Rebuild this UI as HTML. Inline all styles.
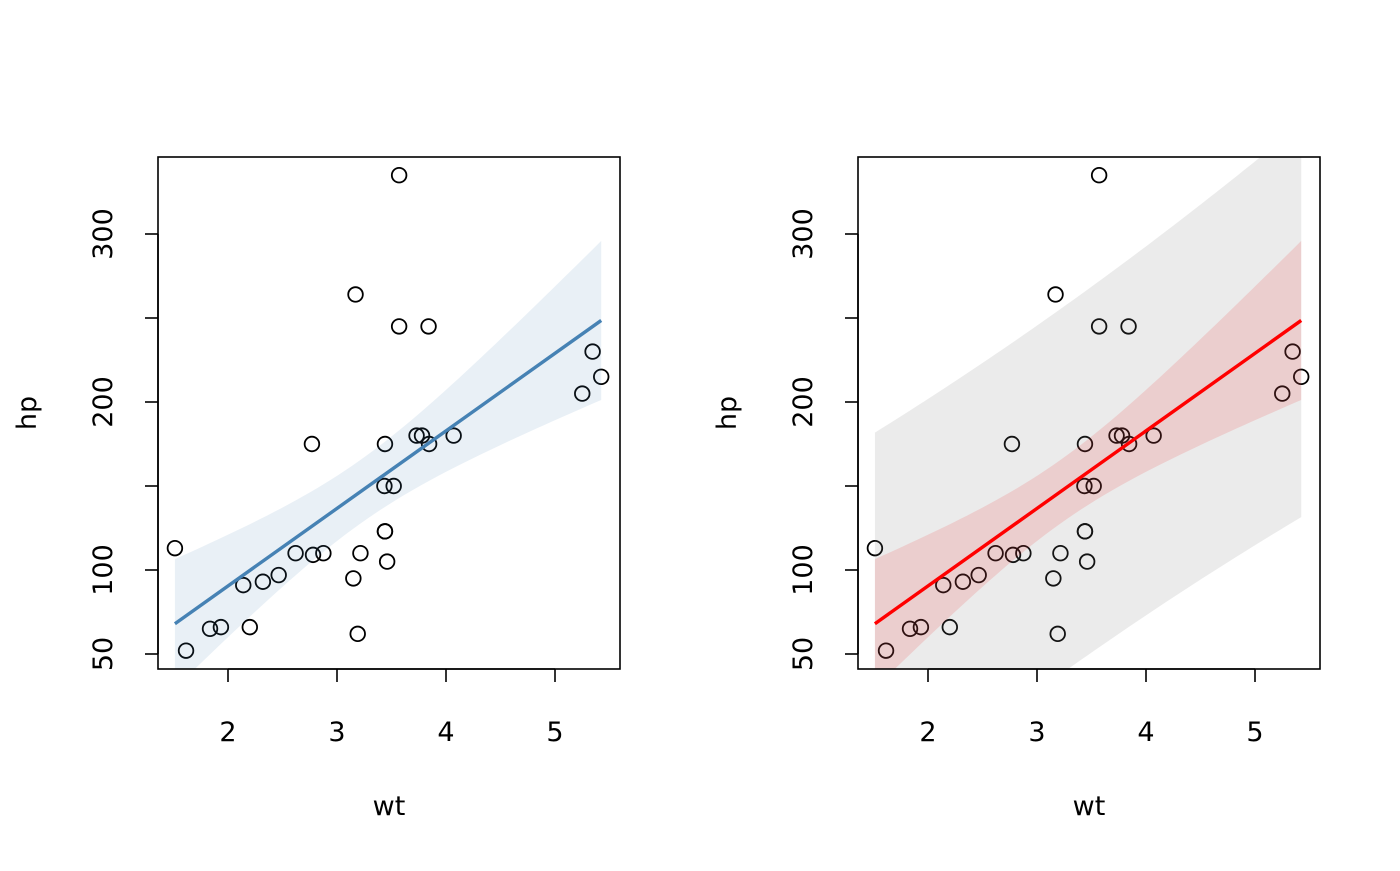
<!DOCTYPE html>
<html><head><meta charset="utf-8"><style>
body{margin:0;background:#fff}
text{font-family:"DejaVu Sans","Liberation Sans",sans-serif;font-size:27px;fill:#000}
</style></head><body>
<svg id="svg" width="1400" height="866" xmlns="http://www.w3.org/2000/svg">
<defs>
<clipPath id="c0"><rect x="158" y="157" width="462" height="512"/></clipPath>
<clipPath id="c1"><rect x="858" y="157" width="462" height="512"/></clipPath>
</defs>
</svg>
<script>
const wt=[2.620,2.875,2.320,3.215,3.440,3.460,3.570,3.190,3.150,3.440,3.440,4.070,3.730,3.780,5.250,5.424,5.345,2.200,1.615,1.835,2.465,3.520,3.435,3.840,3.845,1.935,2.140,1.513,3.170,2.770,3.570,2.780];
const hp=[110,110,93,110,175,105,245,62,95,123,123,180,180,180,205,215,230,66,52,65,97,150,150,245,175,66,91,113,264,175,335,109];
const xTicks=[2,3,4,5];
const yTicks=[50,100,150,200,250,300];
const yLabels=["50","100","","200","","300"];
const tcrit=2.042;

const NS="http://www.w3.org/2000/svg";
const svg=document.getElementById('svg');
function mk(tag,attrs,parent){const e=document.createElementNS(NS,tag);for(const k in attrs)e.setAttribute(k,attrs[k]);(parent||svg).appendChild(e);return e;}

const n=wt.length;
const mx=wt.reduce((a,b)=>a+b,0)/n, my=hp.reduce((a,b)=>a+b,0)/n;
let sxx=0,sxy=0;for(let i=0;i<n;i++){sxx+=(wt[i]-mx)**2;sxy+=(wt[i]-mx)*(hp[i]-my);}
const b1=sxy/sxx,b0=my-b1*mx;
let sse=0;for(let i=0;i<n;i++)sse+=(hp[i]-b0-b1*wt[i])**2;
const sig=Math.sqrt(sse/(n-2));
const xmin=Math.min(...wt),xmax=Math.max(...wt);
const grid=[];for(let k=0;k<=60;k++)grid.push(xmin+(xmax-xmin)*k/60);
function band(pred,sign){return grid.map(x=>b0+b1*x+sign*tcrit*sig*Math.sqrt((pred?1:0)+1/n+(x-mx)**2/sxx));}

function panel(off,idx){
  const X=v=>off+228+(v-2)*109;
  const Y=v=>654-(v-50)*1.68;
  const g=mk('g',{});
  
  for(let i=0;i<n;i++){
    const c=mk('circle',{cx:X(wt[i]),cy:Y(hp[i]),r:7.3,fill:'none',stroke:'#000','stroke-width':1.8},g);
    
    
  }
  const cg=mk('g',{'clip-path':'url(#c'+idx+')'},g);
  function poly(up,lo,fill,op,name){
    let d='M'+grid.map((x,k)=>X(x)+','+Y(up[k])).join('L');
    for(let k=grid.length-1;k>=0;k--)d+='L'+X(grid[k])+','+Y(lo[k]);
    const p=mk('path',{d:d+'Z',fill:fill,'fill-opacity':op},cg);
    
    
  }
  if(idx===0){
    poly(band(false,1),band(false,-1),'#4682b4',0.12,'confidence-band');
  }else{
    poly(band(true,1),band(true,-1),'#808080',0.157,'prediction-band');
    poly(band(false,1),band(false,-1),'#eb0000',0.12,'confidence-band');
  }
  const ln=mk('line',{x1:X(xmin),y1:Y(b0+b1*xmin),x2:X(xmax),y2:Y(b0+b1*xmax),stroke:idx?'#ff0000':'#4682b4','stroke-width':3.4},g);
  
  
  const box=mk('rect',{x:off+158,y:157,width:462,height:512,fill:'none',stroke:'#000','stroke-width':1.6},g);
  
  
  const xa=mk('g',{},g);
  
  
  mk('line',{x1:X(xTicks[0]),y1:669,x2:X(xTicks[xTicks.length-1]),y2:669,stroke:'#000','stroke-width':1.6},xa);
  xTicks.forEach(t=>{
    mk('line',{x1:X(t),y1:669,x2:X(t),y2:682,stroke:'#000','stroke-width':1.6},xa);
    const tx=mk('text',{x:X(t),y:741,'text-anchor':'middle'},xa);tx.textContent=t;
    
    
  });
  const ya=mk('g',{},g);
  
  
  mk('line',{x1:off+158,y1:Y(yTicks[0]),x2:off+158,y2:Y(yTicks[yTicks.length-1]),stroke:'#000','stroke-width':1.6},ya);
  yTicks.forEach((t,k)=>{
    mk('line',{x1:off+145,y1:Y(t),x2:off+158,y2:Y(t),stroke:'#000','stroke-width':1.6},ya);
    if(yLabels[k]){
      const tx=mk('text',{x:0,y:0,'text-anchor':'middle',transform:`translate(${off+112},${Y(t)}) rotate(-90)`},ya);
      tx.textContent=yLabels[k];
      
      
    }
  });
  const xt=mk('text',{x:off+389,y:815,'text-anchor':'middle'},g);xt.textContent='wt';
  
  
  const yt=mk('text',{x:0,y:0,'text-anchor':'middle',transform:`translate(${off+36},413) rotate(-90)`},g);yt.textContent='hp';
  
  
}
panel(0,0);
panel(700,1);
</script>
</body></html>
